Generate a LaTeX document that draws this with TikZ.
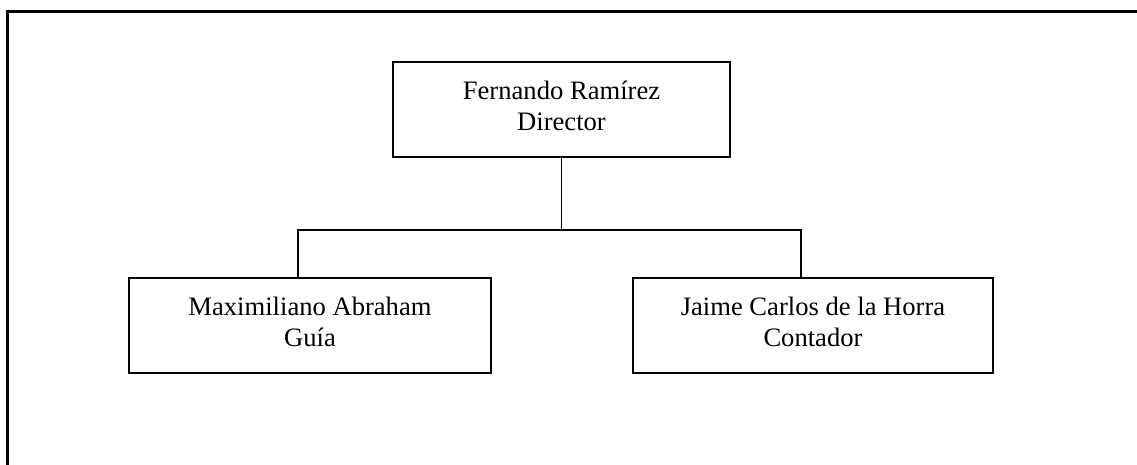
\documentclass[tikz,border=0pt]{standalone}
\usepackage{fontspec}
\setmainfont{Liberation Serif}
\tikzset{
	cargo/.style={draw, line width=0.9pt, align=center, inner sep=0pt, minimum height=47.5pt, text depth=4pt, font=\fontsize{13.3}{15.5}\selectfont},
	linea/.style={line width=0.8pt}
}
\begin{document}
\begin{tikzpicture}[x=0.5pt, y=-0.5pt, line join=miter, line cap=rect]
					\useasboundingbox (0,0) rectangle (1137,465);
					% marco
					\draw[line width=1.5pt] (7,465)--(7,12)--(1137,12);
					% cargos
					\node[cargo, minimum width=168.5pt] (dir) at (561.5,109.5) {Fernando Ramírez\\Director};
					\node[cargo, minimum width=181pt] (guia) at (310,325.5) {Maximiliano Abraham\\Guía};
					\node[cargo, minimum width=180pt] (cont) at (813,325.5) {Jaime Carlos de la Horra\\Contador};
					\coordinate (busL) at (298,230);
					\coordinate (busR) at (801,230);
					% conectores
					\draw[linea] (dir.south)--(dir.south |- busL);
					\draw[linea] (busL)--(busR);
					\draw[linea] (busL)--(busL |- guia.north);
					\draw[linea] (busR)--(busR |- cont.north);
				\end{tikzpicture}
\end{document}
